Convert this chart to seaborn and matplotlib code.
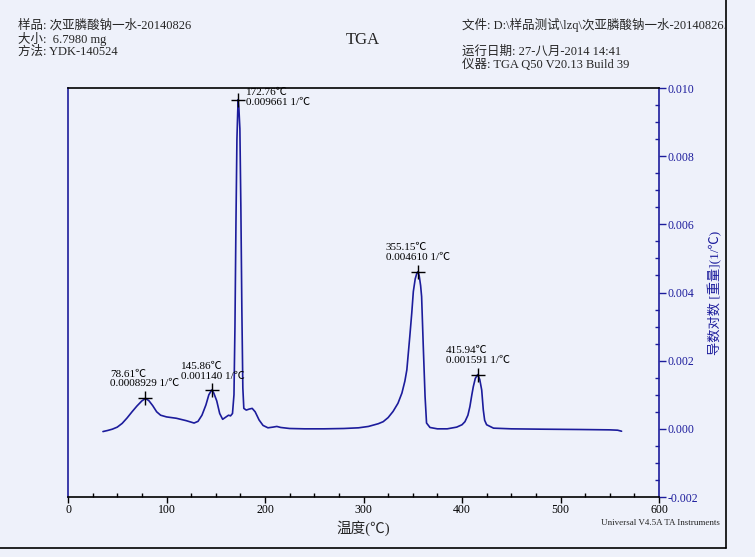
import numpy as np
import pandas as pd
import matplotlib
matplotlib.use("Agg")
import matplotlib.pyplot as plt
from matplotlib.ticker import MultipleLocator
from matplotlib.lines import Line2D
import seaborn as sns

# derivative weight curve
temp = [35.5, 40, 45, 50, 55, 60, 65, 70, 75, 78.6, 82, 86, 90, 94, 100, 110, 120, 128,
        132, 136, 140, 143, 145.9, 148, 151, 154, 157, 160, 163, 165, 167, 168.5, 169.5,
        170.5, 171.5, 172.3, 172.76, 173.5, 174.5, 175.5, 176.5, 177.5, 178.5, 181, 184,
        187, 190, 194, 198, 203, 208, 212, 216, 225, 240, 260, 280, 295, 305, 315, 320,
        325, 330, 335, 339, 342, 344, 347, 349, 350.6, 352.5, 354, 355.15, 356.5, 358,
        359, 360.7, 362.5, 364, 367.5, 375, 385, 394.6, 400, 403, 406, 408, 410, 411.5,
        413.5, 415.94, 418, 420, 421.6, 423, 425, 432, 450, 480, 520, 550, 558, 562]
deriv = [-0.00008, -0.00005, -0.00001, 0.00005, 0.00016, 0.00032, 0.00050, 0.00067,
         0.00082, 0.00089, 0.00083, 0.00068, 0.00050, 0.00040, 0.00035, 0.00031, 0.00024,
         0.00017, 0.00022, 0.00040, 0.00070, 0.00100, 0.00114, 0.00105, 0.00082, 0.00045,
         0.00028, 0.00034, 0.00040, 0.00038, 0.00045, 0.0010, 0.0030, 0.0060, 0.0085,
         0.0093, 0.009661, 0.0094, 0.0088, 0.0065, 0.0035, 0.0012, 0.00060, 0.00055,
         0.00058, 0.00060, 0.00050, 0.00026, 0.00010, 0.00003, 0.00005, 0.00007, 0.00004,
         0.00001, 0.0, 0.0, 0.00001, 0.00003, 0.00007, 0.00015, 0.00021, 0.00033, 0.00051,
         0.00075, 0.00105, 0.00140, 0.00173, 0.00271, 0.00340, 0.00403, 0.00440, 0.00455,
         0.00461, 0.00450, 0.00420, 0.00388, 0.00241, 0.00095, 0.00017, 0.00004, 0.0, 0.0,
         0.00005, 0.00012, 0.00021, 0.00040, 0.00065, 0.00100, 0.00124, 0.00148, 0.001591,
         0.00145, 0.00114, 0.00056, 0.00025, 0.00012, 0.00002, 0.0, -0.00001, -0.00002,
         -0.00003, -0.00004, -0.00007]

peak_t = [78.61, 145.86, 172.76, 355.15, 415.94]
peak_v = [0.0008929, 0.001140, 0.009661, 0.004610, 0.001591]
peak_txt = ["78.61℃\n0.0008929 1/℃", "145.86℃\n0.001140 1/℃", "172.76℃\n0.009661 1/℃",
            "355.15℃\n0.004610 1/℃", "415.94℃\n0.001591 1/℃"]
# label offsets in pixels (left edge, bottom edge) from each peak
peak_off = [(-35, 10), (-31, 9), (8, -7), (-32, 10), (-32, 10)]

header_left = ["样品: 次亚膦酸钠一水-20140826", "大小:  6.7980 mg", "方法: YDK-140524"]
header_right = ["文件: D:\\样品测试\\lzq\\次亚膦酸钠一水-20140826.", "运行日期: 27-八月-2014 14:41",
                "仪器: TGA Q50 V20.13 Build 39"]

BG = "#eef1fa"
BLUE = "#1c1c9c"

sns.set_style("ticks")
plt.rcParams['font.family'] = ['Liberation Serif', 'Noto Sans CJK SC', 'DejaVu Sans']

W, H = 755, 557
fig = plt.figure(figsize=(W / 100, H / 100), dpi=100, facecolor=BG)
ax = fig.add_axes([68 / W, 1 - 497 / H, (659 - 68) / W, (497 - 88) / H], facecolor=BG)

df = pd.DataFrame({"temp": temp, "deriv": deriv})
sns.lineplot(data=df, x="temp", y="deriv", ax=ax, color=BLUE, lw=1.2,
             estimator=None, sort=False)
sns.scatterplot(x=peak_t, y=peak_v, ax=ax, marker="+", s=110, color="black",
                linewidth=1.0, zorder=5)
for t, v, s, (dx, dy) in zip(peak_t, peak_v, peak_txt, peak_off):
    ax.annotate(s, (t, v), xytext=(dx, dy), textcoords="offset pixels",
                ha="left", va="bottom", fontsize=8, linespacing=1.12, color="black")

ax.set_xlim(0, 600)
ax.set_ylim(-0.002, 0.010)
ax.xaxis.set_major_locator(MultipleLocator(100))
ax.xaxis.set_minor_locator(MultipleLocator(25))
ax.yaxis.tick_right()
ax.yaxis.set_label_position("right")
ax.yaxis.set_major_locator(MultipleLocator(0.002))
ax.yaxis.set_minor_locator(MultipleLocator(0.0005))
ax.yaxis.set_major_formatter(matplotlib.ticker.FormatStrFormatter("%.3f"))
ax.tick_params(axis="x", which="major", direction="out", length=4, width=1,
               colors="black", labelsize=8.5, pad=1)
ax.tick_params(axis="x", which="minor", direction="in", length=3, width=1, colors="black")
ax.tick_params(axis="y", which="major", direction="out", length=5, width=1,
               colors=BLUE, labelsize=8.5, pad=1)
ax.tick_params(axis="y", which="minor", direction="in", length=3, width=1, colors=BLUE)
for side in ["left", "right"]:
    ax.spines[side].set_color(BLUE)
for side in ["top", "bottom"]:
    ax.spines[side].set_color("black")
for sp in ax.spines.values():
    sp.set_linewidth(1.2)

ax.set_xlabel("温度(℃)", fontsize=10.5, labelpad=3)
ax.set_ylabel("导数对数 [重量](1/℃)", fontsize=9.5, color=BLUE)
ax.yaxis.set_label_coords((715 - 68) / (659 - 68), 0.5)
ax.yaxis.label.set_verticalalignment("center")

def px(x, y):
    return x / W, 1 - y / H

for s, y in zip(header_left, [25, 38.5, 52]):
    fig.text(*px(18, y), s, fontsize=9, va="center", ha="left")
fig.text(*px(363, 40), "TGA", fontsize=12, va="center", ha="center")
for s, y in zip(header_right, [25, 52, 65]):
    fig.text(*px(462, y), s, fontsize=9, va="center", ha="left")
fig.text(*px(720, 523), "Universal V4.5A TA Instruments", fontsize=6.5,
         va="center", ha="right")

# window frame lines
fig.add_artist(Line2D([726 / W, 726 / W], [1 - 548 / H, 1.0], color="black", lw=1.2))
fig.add_artist(Line2D([0, 726 / W], [1 - 548 / H, 1 - 548 / H], color="black", lw=1.2))
# cover text spilling past the frame
fig.add_artist(plt.Rectangle((727 / W, 0), 1 - 727 / W, 1, transform=fig.transFigure,
                             facecolor=BG, edgecolor="none", zorder=10))

fig.savefig("out.png", dpi=100, facecolor=BG)
